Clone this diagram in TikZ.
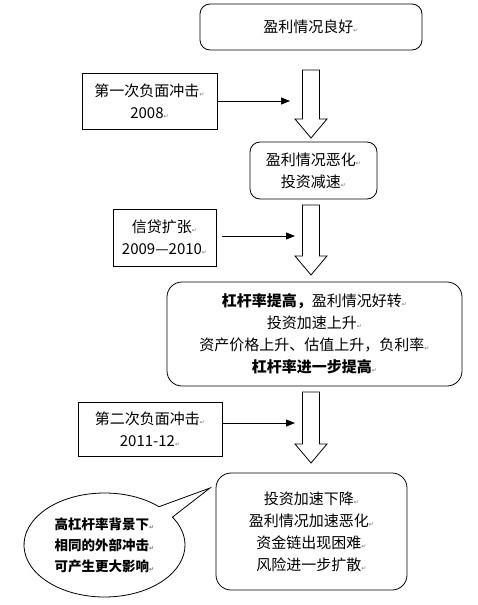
\documentclass[tikz,border=0pt]{standalone}
\usepackage{fontspec}
\setmainfont{Noto Sans CJK SC}
\newfontfamily\markfont{DejaVu Sans}
\usetikzlibrary{shapes.callouts,arrows.meta}
\newcommand\pmk{{\markfont\fontsize{6}{6}\selectfont\color{black!55}↵}}
\newcommand\blockarr[3]{%
  \draw[barrow] (#1-8.5,#2) -- (#1+8.5,#2) -- (#1+8.5,#3-19) -- (#1+16,#3-19)
    -- (#1,#3) -- (#1-16,#3-19) -- (#1-8.5,#3-19) -- cycle;}
\begin{document}
\begin{tikzpicture}[x=1pt,y=-1pt,
  box/.style={draw, line width=0.8pt, rounded corners=10pt, align=center, inner sep=0pt,
    font=\fontsize{15}{22}\selectfont},
  side/.style={draw, line width=0.8pt, align=center, inner sep=0pt,
    font=\fontsize{15}{22}\selectfont},
  conn/.style={line width=0.8pt, -{Triangle[length=9pt,width=7pt]}},
  barrow/.style={draw, line width=0.8pt, fill=white}]
\useasboundingbox (0,0) rectangle (478,605);

\node[box, minimum width=222pt, minimum height=46pt] (b1) at (311,27) {盈利情况良好\pmk};
\node[side, minimum width=135pt, minimum height=56pt] (s1) at (149.5,101) {第一次负面冲击\pmk\\2008\pmk};
\node[box, minimum width=127pt, minimum height=57pt] (b2) at (313.5,170.5) {盈利情况恶化\pmk\\投资减速\pmk};
\node[side, minimum width=103pt, minimum height=57pt] (s2) at (164.5,237.5) {信贷扩张\pmk\\2009—2010\pmk};
\node[box, rounded corners=15pt, minimum width=295pt, minimum height=104pt] (b3) at (314.5,334)
  {\textbf{杠杆率提高，}盈利情况好转\pmk\\投资加速上升\pmk\\资产价格上升、估值上升，负利率\pmk\\\textbf{杠杆率进一步提高}\pmk};
\node[side, minimum width=144pt, minimum height=54pt] (s3) at (150,429) {第二次负面冲击\pmk\\2011-12\pmk};
\node[box, rounded corners=15pt, minimum width=191pt, minimum height=117pt] (b4) at (311.5,531.5)
  {投资加速下降\pmk\\盈利情况加速恶化\pmk\\资金链出现困难\pmk\\风险进一步扩散\pmk};
\node[ellipse callout, draw, line width=0.8pt, minimum width=161pt, minimum height=104pt,
  callout absolute pointer={(210,488)}, align=center, inner sep=0pt,
  font=\fontsize{13.5}{21}\selectfont\bfseries] (c) at (104.5,545)
  {高杠杆率背景下\pmk\\相同的外部冲击\pmk\\可产生更大影响\pmk};

\coordinate (h1) at (290,101);
\coordinate (h2) at (295,236);
\coordinate (h3) at (295,423);
\draw[conn] (s1.east |- h1) -- (h1);
\draw[conn] ([xshift=6pt]s2.east |- h2) -- (h2);
\draw[conn] (s3.east |- h3) -- (h3);

\blockarr{311}{70}{138}
\blockarr{311}{205}{275}
\blockarr{311}{392}{463}
\end{tikzpicture}
\end{document}
